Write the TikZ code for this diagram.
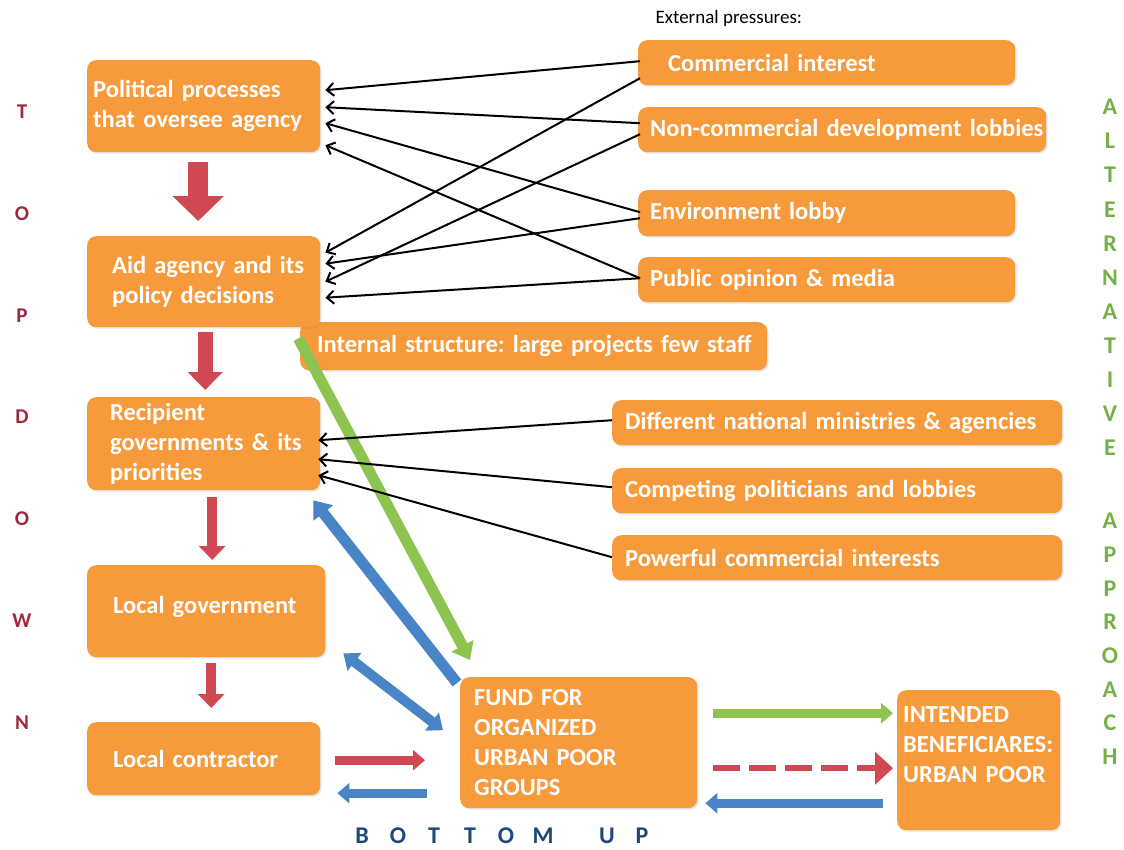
\documentclass[tikz,border=0pt]{standalone}
\usepackage{fontspec}
\setmainfont{Carlito}
\frenchspacing
\usetikzlibrary{arrows.meta,shadows}
\definecolor{boxor}{RGB}{247,154,60}
\definecolor{redarr}{RGB}{208,72,82}
\definecolor{bluearr}{RGB}{72,132,198}
\definecolor{greenarr}{RGB}{141,196,79}
\definecolor{tdred}{RGB}{160,40,62}
\definecolor{altgreen}{RGB}{118,176,72}
\definecolor{bublue}{RGB}{30,72,122}
\begin{document}
\begin{tikzpicture}[line join=round, x=1pt, y=-1pt]
	\tikzset{box/.style={fill=boxor, rounded corners=9pt, text=white, anchor=north west, align=left, inner ysep=0pt,
			font=\fontsize{24.5}{30}\selectfont\bfseries, drop shadow={shadow xshift=1.5pt, shadow yshift=-1.5pt, opacity=.2}},
		press/.style={-{Straight Barb[length=7pt,width=13pt]}, line width=2pt},
		tdl/.style={text=tdred, font=\fontsize{21}{21}\selectfont\bfseries},
		altl/.style={text=altgreen, font=\fontsize{24}{24}\selectfont\bfseries},
		bul/.style={text=bublue, inner sep=0pt, font=\fontsize{24}{24}\selectfont\bfseries}}
	\useasboundingbox (0,0) rectangle (1124,849);
	% left column
	\node[box, text width=221pt, inner xsep=6pt, minimum height=92pt] (pol) at (87,60) {Political processes\\that oversee agency};
	\node[box, text width=433pt, inner xsep=17pt, minimum height=48pt] (int) at (300,322) {\mbox{Internal structure: large projects few staff}};
	\node[box, text width=183pt, inner xsep=25pt, minimum height=91pt] (aid) at (87,236) {\mbox{Aid agency and its}\\policy decisions};
	\node[box, text width=187pt, inner xsep=23pt, minimum height=93pt] (rec) at (87,397) {Recipient\\\mbox{governments \& its}\\priorities};
	\node[box, text width=186pt, inner xsep=26pt, minimum height=92pt] (loc) at (87,565) {\mbox{Local government}\\[-18pt]\mbox{}};
	\node[box, text width=181pt, inner xsep=26pt, minimum height=73pt] (con) at (87,722) {Local contractor};
	% external pressures
	\node[anchor=west, font=\fontsize{19}{22}\selectfont] (ext) at (652,18) {External pressures:};
	\node[box, text width=317pt, inner xsep=30pt, minimum height=45pt] (com) at (638,40) {Commercial interest};
	\node[box, text width=384pt, inner xsep=12pt, minimum height=45pt] (non) at (638,107) {\mbox{Non-commercial development lobbies}};
	\node[box, text width=353pt, inner xsep=12pt, minimum height=46pt] (env) at (638,190) {Environment lobby};
	\node[box, text width=353pt, inner xsep=12pt, minimum height=45pt] (pub) at (638,257) {Public opinion \& media};
	\node[box, text width=424pt, inner xsep=13pt, minimum height=45pt] (dif) at (612,400) {\mbox{Different national ministries \& agencies}};
	\node[box, text width=424pt, inner xsep=13pt, minimum height=45pt] (cmp) at (612,468) {Competing politicians and lobbies};
	\node[box, text width=424pt, inner xsep=13pt, minimum height=45pt] (pow) at (612,535) {Powerful commercial interests};
	% bottom
	\node[box, text width=209pt, inner xsep=14pt, minimum height=131pt] (fund) at (460,677) {FUND FOR\\ORGANIZED\\URBAN POOR\\GROUPS};
	\node[box, text width=151pt, inner xsep=6pt, minimum height=140pt] (ben) at (897,690) {INTENDED\\\mbox{BENEFICIARES:}\\URBAN POOR\\[2pt]\mbox{}};
	% top down
	\draw[redarr, line width=20pt, -{Triangle[length=25pt,width=50pt]}] ([xshift=-5.5pt,yshift=-10pt]pol.south) -- ([xshift=-5.5pt,yshift=15pt]aid.north);
	\draw[redarr, line width=15pt, -{Triangle[length=18pt,width=34pt]}] ([xshift=1.5pt,yshift=-5pt]aid.south) -- ([xshift=1.5pt,yshift=7pt]rec.north);
	\draw[redarr, line width=10pt, -{Triangle[length=14pt,width=26pt]}] ([xshift=8.5pt,yshift=-7pt]rec.south) -- ([xshift=8.5pt,yshift=5pt]rec.south |- loc.north);
	\draw[redarr, line width=10pt, -{Triangle[length=14pt,width=26pt]}] ([xshift=5pt,yshift=-6pt]loc.south) -- ([xshift=5pt,yshift=14pt]loc.south |- con.north);
	% flows round the fund
	\draw[greenarr, line width=11pt, -{Triangle[length=16pt,width=24pt]}] ([xshift=-22pt,yshift=-11pt]aid.south east) -- ([xshift=10pt,yshift=17pt]fund.north west);
	\draw[bluearr, line width=11pt, -{Triangle[length=16pt,width=24pt]}] ([xshift=-3pt,yshift=-6pt]fund.north west) -- ([xshift=-7pt,yshift=-10pt]rec.south east);
	\draw[bluearr, line width=10pt, {Triangle[length=14pt,width=22pt]}-{Triangle[length=14pt,width=22pt]}] ([xshift=18pt,yshift=4pt]loc.south east) -- ([xshift=-17pt,yshift=12.5pt]fund.west);
	\draw[redarr, line width=9pt, -{Triangle[length=12pt,width=20pt]}] ([xshift=15pt,yshift=-1.5pt]con.east) -- ([xshift=-35pt,yshift=-1.5pt]con.east -| fund.west);
	\draw[bluearr, line width=9pt, -{Triangle[length=12pt,width=20pt]}] ([xshift=-33pt,yshift=-34.5pt]con.east -| fund.west) -- ([xshift=17pt,yshift=-34.5pt]con.east);
	\draw[greenarr, line width=9pt, -{Triangle[length=12pt,width=20pt]}] ([xshift=16pt,yshift=29.5pt]fund.east) -- ([xshift=-4pt,yshift=29.5pt]fund.east -| ben.west);
	\draw[redarr, line width=6pt, dash pattern=on 27pt off 9pt, -{Triangle[length=18pt,width=32pt]}] ([xshift=16pt,yshift=-25.5pt]fund.east) -- ([xshift=-4pt,yshift=-25.5pt]fund.east -| ben.west);
	\draw[bluearr, line width=9pt, -{Triangle[length=12pt,width=20pt]}] ([xshift=-14pt,yshift=-60.5pt]fund.east -| ben.west) -- ([xshift=8pt,yshift=-60.5pt]fund.east);
	% pressures
	\foreach \s/\a/\t/\b in {com/1.5/pol/16, non/6.5/pol/-1, env/1/pol/-17, pub/1.5/pol/-39,
		com/-15.5/aid/29, env/-5/aid/18, non/-4.5/aid/0, pub/1.5/aid/-16}
	\draw[press] ([xshift=2pt,yshift=\a pt]\s.west) -- ([xshift=5pt,yshift=\b pt]\t.east);
	\foreach \s/\a/\b in {dif/2.5/3.5, cmp/3.5/-15.5, pow/0.5/-31.5}
	\draw[press] ([yshift=\a pt]\s.west) -- ([xshift=-2pt,yshift=\b pt]rec.east);
	% side letters
	\foreach \l [count=\i] in {T,O,P,D,O,W,N}
	\node[tdl] (td\i) at (22,{112+101.7*(\i-1)}) {\l};
	\foreach \l [count=\i] in {A,L,T,E,R,N,A,T,I,V,E}
	\node[altl] (al\i) at (1110,{107+34.1*(\i-1)}) {\l};
	\foreach \l [count=\i] in {A,P,P,R,O,A,C,H}
	\node[altl] (ap\i) at (1110,{521+33.7*(\i-1)}) {\l};
	\foreach \l/\x [count=\i] in {B/362,O/398,T/434,T/470,O/506,M/543,U/607,P/642}
	\node[bul] (bu\i) at (\x,836) {\l};
\end{tikzpicture}
\end{document}
